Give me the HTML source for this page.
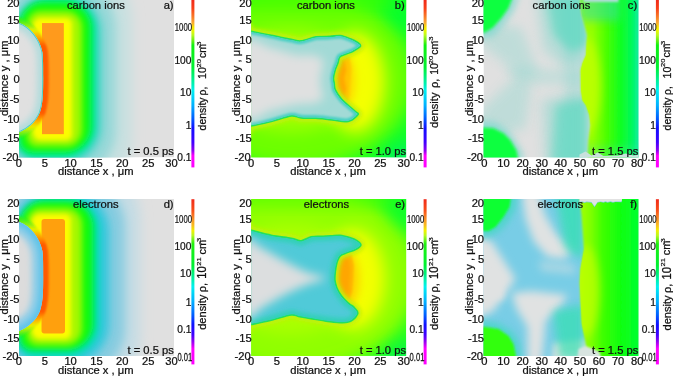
<!DOCTYPE html>
<html><head><meta charset="utf-8"><style>
html,body{margin:0;padding:0;background:#fff;width:673px;height:376px;overflow:hidden}
svg.main{display:block;will-change:transform}
text{font-family:"Liberation Sans", sans-serif;fill:#111;stroke:#111;stroke-width:0.25px}
</style></head><body>
<svg class="main" width="673" height="376" viewBox="0 0 673 376">
<defs>
<linearGradient id="cbar" x1="0" y1="0" x2="0" y2="1">
<stop offset="0" stop-color="#f02a1a"/>
<stop offset="0.05" stop-color="#f84018"/>
<stop offset="0.10" stop-color="#f87a28"/>
<stop offset="0.135" stop-color="#f8a830"/>
<stop offset="0.165" stop-color="#f8e800"/>
<stop offset="0.185" stop-color="#e8f800"/>
<stop offset="0.21" stop-color="#b8f820"/>
<stop offset="0.25" stop-color="#50f010"/>
<stop offset="0.27" stop-color="#10f010"/>
<stop offset="0.40" stop-color="#00f030"/>
<stop offset="0.50" stop-color="#00f0b0"/>
<stop offset="0.54" stop-color="#00f0f0"/>
<stop offset="0.63" stop-color="#00b0ff"/>
<stop offset="0.705" stop-color="#0060ff"/>
<stop offset="0.765" stop-color="#1010ff"/>
<stop offset="0.85" stop-color="#4000ff"/>
<stop offset="0.90" stop-color="#9000f0"/>
<stop offset="0.93" stop-color="#ff00ff"/>
<stop offset="1" stop-color="#ff00ff"/>
</linearGradient>
<linearGradient id="cbar2" x1="0" y1="0" x2="0" y2="1">
<stop offset="0" stop-color="#f02a1a"/>
<stop offset="0.07" stop-color="#f85018"/>
<stop offset="0.12" stop-color="#f89028"/>
<stop offset="0.16" stop-color="#f8c020"/>
<stop offset="0.19" stop-color="#f0f000"/>
<stop offset="0.22" stop-color="#b8f820"/>
<stop offset="0.27" stop-color="#20f010"/>
<stop offset="0.40" stop-color="#00f030"/>
<stop offset="0.49" stop-color="#00f0b0"/>
<stop offset="0.53" stop-color="#00f0f0"/>
<stop offset="0.62" stop-color="#00b0ff"/>
<stop offset="0.70" stop-color="#0060ff"/>
<stop offset="0.76" stop-color="#1010ff"/>
<stop offset="0.82" stop-color="#4000ff"/>
<stop offset="0.86" stop-color="#9000f0"/>
<stop offset="0.905" stop-color="#ff00ff"/>
<stop offset="1" stop-color="#ff00ff"/>
</linearGradient>

<linearGradient id="gradF" gradientUnits="userSpaceOnUse" x1="95" y1="0" x2="155" y2="0">
<stop offset="0" stop-color="#a8ff00"/>
<stop offset="0.2" stop-color="#80ff00"/>
<stop offset="0.4" stop-color="#40ff00"/>
<stop offset="0.7" stop-color="#10ff10"/>
<stop offset="1" stop-color="#00ff30"/>
</linearGradient>
<linearGradient id="gradC" gradientUnits="userSpaceOnUse" x1="95" y1="0" x2="155" y2="0">
<stop offset="0" stop-color="#b0ff00"/>
<stop offset="0.25" stop-color="#90ff00"/>
<stop offset="0.45" stop-color="#50ff00"/>
<stop offset="0.7" stop-color="#10ff20"/>
<stop offset="0.9" stop-color="#00f860"/>
<stop offset="1" stop-color="#10eca0"/>
</linearGradient>
<filter id="b1" x="-50%" y="-50%" width="200%" height="200%"><feGaussianBlur stdDeviation="1"/></filter>
<filter id="b15" x="-50%" y="-50%" width="200%" height="200%"><feGaussianBlur stdDeviation="1.5"/></filter>
<filter id="b2" x="-50%" y="-50%" width="200%" height="200%"><feGaussianBlur stdDeviation="2"/></filter>
<filter id="b3" x="-50%" y="-50%" width="200%" height="200%"><feGaussianBlur stdDeviation="3"/></filter>
<filter id="b4" x="-50%" y="-50%" width="200%" height="200%"><feGaussianBlur stdDeviation="4"/></filter>
<filter id="b5" x="-50%" y="-50%" width="200%" height="200%"><feGaussianBlur stdDeviation="5"/></filter>
<filter id="b6" x="-50%" y="-50%" width="200%" height="200%"><feGaussianBlur stdDeviation="6"/></filter>
<filter id="b8" x="-50%" y="-50%" width="200%" height="200%"><feGaussianBlur stdDeviation="8"/></filter>
<filter id="b05" x="-50%" y="-50%" width="200%" height="200%"><feGaussianBlur stdDeviation="0.6"/></filter>
<linearGradient id="holeband" gradientUnits="userSpaceOnUse" x1="0" y1="20" x2="0" y2="136">
<stop offset="0" stop-color="#30f020"/>
<stop offset="0.05" stop-color="#90f010"/>
<stop offset="0.09" stop-color="#e8f000"/>
<stop offset="0.14" stop-color="#ffb000"/>
<stop offset="0.22" stop-color="#ff5a00"/>
<stop offset="0.80" stop-color="#ff5a00"/>
<stop offset="0.87" stop-color="#ffb000"/>
<stop offset="0.92" stop-color="#e8f000"/>
<stop offset="0.96" stop-color="#90f010"/>
<stop offset="1" stop-color="#30f020"/>
</linearGradient>

</defs>
<svg x="19.0" y="0.0" width="155.0" height="157.4" viewBox="0 0 155 157" preserveAspectRatio="none" overflow="hidden"><rect x="0" y="0" width="155" height="157" fill="#e0e0e0"/><path d="M40,-40 L53,-40 A60,60 0 0 1 113,20 L113,137 A60,60 0 0 1 53,197 L20,197 A50,50 0 0 1 -30,147 L-30,30 A70,70 0 0 1 40,-40 Z" fill="#c8e0e0" filter="url(#b6)" /><path d="M38,-22 L47,-22 A50,50 0 0 1 97,28 L97,129 A50,50 0 0 1 47,179 L22,179 A40,40 0 0 1 -18,139 L-18,34 A56,56 0 0 1 38,-22 Z" fill="#98d8d8" filter="url(#b5)" /><path d="M36,-8 L43,-8 A40,40 0 0 1 83,32 L83,125 A40,40 0 0 1 43,165 L22,165 A30,30 0 0 1 -8,135 L-8,36 A44,44 0 0 1 36,-8 Z" fill="#48d4c8" filter="url(#b4)" /><path d="M32,-2 L45,-2 A32,32 0 0 1 77,30 L77,126 A32,32 0 0 1 45,158 L18,158 A20,20 0 0 1 -2,138 L-2,32 A34,34 0 0 1 32,-2 Z" fill="#00e8a0" filter="url(#b3)" /><path d="M25,2 L46,2 A26,26 0 0 1 72,28 L72,126 A26,26 0 0 1 46,152 L13,152 A12,12 0 0 1 1,140 L1,26 A24,24 0 0 1 25,2 Z" fill="#10fa10" filter="url(#b3)" /><path d="M22,11 L47,11 A16,16 0 0 1 63,27 L63,130 A16,16 0 0 1 47,146 L18,146 A10,10 0 0 1 8,136 L8,25 A14,14 0 0 1 22,11 Z" fill="#a8f800" filter="url(#b3)" /><path d="M22,18 L47,18 A6,6 0 0 1 53,24 L53,134 A6,6 0 0 1 47,140 L22,140 A8,8 0 0 1 14,132 L14,26 A8,8 0 0 1 22,18 Z" fill="#fcfc00" filter="url(#b2)" /><rect x="23" y="23" width="21.8" height="110.8" fill="#ff9a1c" filter="url(#b05)"/><path d="M-20,20 L0,22.8 C6,25 11,29 15,34 C19,39 22,45 23.4,52 C24.2,58 24.2,66 24.2,78 C24.2,98 23.5,104 21,112 C17,122 8,129 0,132 L-20,135 Z" fill="none" stroke="url(#holeband)" stroke-width="11" filter="url(#b1)"/><clipPath id="clipA"><path d="M-20,20 L0,22.8 C6,25 11,29 15,34 C19,39 22,45 23.4,52 C24.2,58 24.2,66 24.2,78 C24.2,98 23.5,104 21,112 C17,122 8,129 0,132 L-20,135 Z"/></clipPath><g clip-path="url(#clipA)"><path d="M-20,20 L0,22.8 C6,25 11,29 15,34 C19,39 22,45 23.4,52 C24.2,58 24.2,66 24.2,78 C24.2,98 23.5,104 21,112 C17,122 8,129 0,132 L-20,135 Z" fill="#e0e0e0"/><path d="M-20,20 L0,22.8 C6,25 11,29 15,34 C19,39 22,45 23.4,52 C24.2,58 24.2,66 24.2,78 C24.2,98 23.5,104 21,112 C17,122 8,129 0,132 L-20,135 Z" fill="none" stroke="#b0dcdc" stroke-width="12" filter="url(#b3)"/><path d="M-20,20 L0,22.8 C6,25 11,29 15,34 C19,39 22,45 23.4,52 C24.2,58 24.2,66 24.2,78 C24.2,98 23.5,104 21,112 C17,122 8,129 0,132 L-20,135 Z" fill="none" stroke="#50d0c8" stroke-width="2" filter="url(#b05)"/></g></svg><text transform="translate(19.60,7.30) scale(1,0.9)" text-anchor="end" font-size="11.2" >20</text><text transform="translate(19.60,23.60) scale(1,0.9)" text-anchor="end" font-size="11.2" >15</text><text transform="translate(19.60,43.60) scale(1,0.9)" text-anchor="end" font-size="11.2" >10</text><text transform="translate(19.60,63.40) scale(1,0.9)" text-anchor="end" font-size="11.2" >5</text><text transform="translate(19.60,83.10) scale(1,0.9)" text-anchor="end" font-size="11.2" >0</text><text transform="translate(19.60,103.10) scale(1,0.9)" text-anchor="end" font-size="11.2" >-5</text><text transform="translate(19.60,123.10) scale(1,0.9)" text-anchor="end" font-size="11.2" >-10</text><text transform="translate(19.60,142.10) scale(1,0.9)" text-anchor="end" font-size="11.2" >-15</text><text transform="translate(18.60,160.60) scale(1,0.9)" text-anchor="end" font-size="11.2" >-20</text><text transform="translate(18.90,166.60) scale(1,0.9)" text-anchor="middle" font-size="11.2" >0</text><text transform="translate(44.75,166.60) scale(1,0.9)" text-anchor="middle" font-size="11.2" >5</text><text transform="translate(70.60,166.60) scale(1,0.9)" text-anchor="middle" font-size="11.2" >10</text><text transform="translate(96.45,166.60) scale(1,0.9)" text-anchor="middle" font-size="11.2" >15</text><text transform="translate(122.30,166.60) scale(1,0.9)" text-anchor="middle" font-size="11.2" >20</text><text transform="translate(148.15,166.60) scale(1,0.9)" text-anchor="middle" font-size="11.2" >25</text><text transform="translate(171.50,166.60) scale(1,0.9)" text-anchor="middle" font-size="11.2" >30</text><text transform="translate(95.80,175.20) scale(1,0.9)" text-anchor="middle" font-size="11.2" >distance x , μm</text><text transform="translate(8.00,116.00) rotate(-90) scale(1,0.9)" text-anchor="start" font-size="11.2" >distance y , μm</text><text transform="translate(95.80,9.40) scale(1,0.9)" text-anchor="middle" font-size="11.2" >carbon ions</text><text transform="translate(173.60,9.40) scale(1,0.9)" text-anchor="end" font-size="11.2" >a)</text><text transform="translate(173.80,155.00) scale(1,0.9)" text-anchor="end" font-size="11.2" >t = 0.5 ps</text><rect x="191.4" y="0" width="3" height="167.4" fill="url(#cbar)"/><text transform="translate(192.00,31.10) scale(0.69,0.9)" text-anchor="end" font-size="11.2">1000</text><text transform="translate(191.40,63.70) scale(0.91,0.9)" text-anchor="end" font-size="11.2">100</text><text transform="translate(191.40,96.20) scale(0.91,0.9)" text-anchor="end" font-size="11.2">10</text><text transform="translate(191.40,128.90) scale(0.91,0.9)" text-anchor="end" font-size="11.2">1</text><text transform="translate(191.40,160.60) scale(0.91,0.9)" text-anchor="end" font-size="11.2">0.1</text><text transform="translate(206.00,130.40) rotate(-90) scale(1,1.02)" font-size="10.4">density</text><text transform="translate(206.00,95.40) rotate(-90) scale(1,1.02)" font-size="10.4">ρ,</text><text transform="translate(206.00,79.00) rotate(-90) scale(1,1.05)" font-size="10.6">10</text><text transform="translate(200.60,67.50) rotate(-90) scale(1,0.8)" font-size="7.6">20</text><text transform="translate(205.80,58.00) rotate(-90) scale(1,1.02)" font-size="10.6">cm</text><text transform="translate(200.60,48.20) rotate(-90) scale(1,0.8)" font-size="7.6">-3</text><svg x="251.2" y="0.0" width="155.0" height="157.4" viewBox="0 0 155 157" preserveAspectRatio="none" overflow="hidden"><rect x="0" y="0" width="155" height="157" fill="#10ff28"/><ellipse cx="45" cy="78" rx="118" ry="90" fill="#6cff00" filter="url(#b8)"/><ellipse cx="40" cy="80" rx="75" ry="52" fill="#9cff00" filter="url(#b8)"/><rect x="-10" y="-10" width="175" height="20" fill="#40ff00" opacity="0.7" filter="url(#b6)"/><ellipse cx="160" cy="165" rx="30" ry="22" fill="#00f070" opacity="0.7" filter="url(#b8)"/><ellipse cx="160" cy="0" rx="25" ry="30" fill="#00ff30" opacity="0.7" filter="url(#b8)"/><ellipse cx="104" cy="82" rx="30" ry="50" fill="#f4ff00" filter="url(#b8)"/><ellipse cx="94" cy="80" rx="10" ry="26" fill="#ffd800" filter="url(#b4)"/><path d="M86,55 L98,56 L100,68 L99,82 L98,95 L96,103 L90,102 L82,90 L80,75 L83,62 Z" fill="#ffc400" filter="url(#b15)"/><path d="M87,60 L93,59 L95,70 L93,78 L95,88 L93,98 L88,95 L85,84 L84,72 Z" fill="#ffa800" filter="url(#b15)"/><clipPath id="clipB"><path d="M-6.0,31.0 C-5.0,15.3 -4.3,31.2 0.0,32.0 C4.3,32.8 13.3,34.7 20.0,36.0 C26.7,37.3 35.0,39.1 40.0,40.0 C45.0,40.9 45.8,41.9 50.0,41.5 C54.2,41.1 60.2,38.2 65.0,37.5 C69.8,36.8 75.0,37.2 79.0,37.0 C83.0,36.8 85.7,35.8 89.0,36.2 C92.3,36.6 96.2,38.3 99.0,39.4 C101.8,40.5 104.4,41.9 106.0,43.0 C107.6,44.1 109.2,44.8 108.5,46.0 C107.8,47.2 104.0,49.2 101.5,50.5 C99.0,51.8 95.8,52.7 93.5,53.7 C91.2,54.7 89.3,54.9 88.0,56.5 C86.7,58.1 86.6,61.1 85.8,63.3 C85.0,65.5 84.0,67.3 83.3,69.7 C82.6,72.1 81.8,75.4 81.6,77.6 C81.4,79.8 82.0,80.9 82.3,83.0 C82.6,85.1 82.2,87.2 83.5,90.0 C84.8,92.8 87.5,96.7 90.0,99.5 C92.5,102.3 95.8,104.8 98.3,107.0 C100.8,109.2 103.5,111.2 104.7,112.5 C106.0,113.8 107.1,113.2 105.8,114.5 C104.5,115.8 101.0,119.8 96.8,120.5 C92.6,121.2 86.1,119.4 80.8,118.9 C75.5,118.4 69.9,117.6 64.8,117.3 C59.7,117.0 54.1,117.4 50.0,117.0 C45.9,116.6 45.0,114.4 40.0,115.0 C35.0,115.6 26.7,118.9 20.0,120.6 C13.3,122.3 4.3,124.1 0.0,125.0 C-4.3,125.9 -5.0,141.7 -6.0,126.0 C-7.0,110.3 -7.0,46.7 -6.0,31.0 Z"/></clipPath><path d="M-6.0,31.0 C-5.0,15.3 -4.3,31.2 0.0,32.0 C4.3,32.8 13.3,34.7 20.0,36.0 C26.7,37.3 35.0,39.1 40.0,40.0 C45.0,40.9 45.8,41.9 50.0,41.5 C54.2,41.1 60.2,38.2 65.0,37.5 C69.8,36.8 75.0,37.2 79.0,37.0 C83.0,36.8 85.7,35.8 89.0,36.2 C92.3,36.6 96.2,38.3 99.0,39.4 C101.8,40.5 104.4,41.9 106.0,43.0 C107.6,44.1 109.2,44.8 108.5,46.0 C107.8,47.2 104.0,49.2 101.5,50.5 C99.0,51.8 95.8,52.7 93.5,53.7 C91.2,54.7 89.3,54.9 88.0,56.5 C86.7,58.1 86.6,61.1 85.8,63.3 C85.0,65.5 84.0,67.3 83.3,69.7 C82.6,72.1 81.8,75.4 81.6,77.6 C81.4,79.8 82.0,80.9 82.3,83.0 C82.6,85.1 82.2,87.2 83.5,90.0 C84.8,92.8 87.5,96.7 90.0,99.5 C92.5,102.3 95.8,104.8 98.3,107.0 C100.8,109.2 103.5,111.2 104.7,112.5 C106.0,113.8 107.1,113.2 105.8,114.5 C104.5,115.8 101.0,119.8 96.8,120.5 C92.6,121.2 86.1,119.4 80.8,118.9 C75.5,118.4 69.9,117.6 64.8,117.3 C59.7,117.0 54.1,117.4 50.0,117.0 C45.9,116.6 45.0,114.4 40.0,115.0 C35.0,115.6 26.7,118.9 20.0,120.6 C13.3,122.3 4.3,124.1 0.0,125.0 C-4.3,125.9 -5.0,141.7 -6.0,126.0 C-7.0,110.3 -7.0,46.7 -6.0,31.0 Z" fill="none" stroke="#c0f010" stroke-width="9" filter="url(#b2)"/><path d="M-6.0,31.0 C-5.0,15.3 -4.3,31.2 0.0,32.0 C4.3,32.8 13.3,34.7 20.0,36.0 C26.7,37.3 35.0,39.1 40.0,40.0 C45.0,40.9 45.8,41.9 50.0,41.5 C54.2,41.1 60.2,38.2 65.0,37.5 C69.8,36.8 75.0,37.2 79.0,37.0 C83.0,36.8 85.7,35.8 89.0,36.2 C92.3,36.6 96.2,38.3 99.0,39.4 C101.8,40.5 104.4,41.9 106.0,43.0 C107.6,44.1 109.2,44.8 108.5,46.0 C107.8,47.2 104.0,49.2 101.5,50.5 C99.0,51.8 95.8,52.7 93.5,53.7 C91.2,54.7 89.3,54.9 88.0,56.5 C86.7,58.1 86.6,61.1 85.8,63.3 C85.0,65.5 84.0,67.3 83.3,69.7 C82.6,72.1 81.8,75.4 81.6,77.6 C81.4,79.8 82.0,80.9 82.3,83.0 C82.6,85.1 82.2,87.2 83.5,90.0 C84.8,92.8 87.5,96.7 90.0,99.5 C92.5,102.3 95.8,104.8 98.3,107.0 C100.8,109.2 103.5,111.2 104.7,112.5 C106.0,113.8 107.1,113.2 105.8,114.5 C104.5,115.8 101.0,119.8 96.8,120.5 C92.6,121.2 86.1,119.4 80.8,118.9 C75.5,118.4 69.9,117.6 64.8,117.3 C59.7,117.0 54.1,117.4 50.0,117.0 C45.9,116.6 45.0,114.4 40.0,115.0 C35.0,115.6 26.7,118.9 20.0,120.6 C13.3,122.3 4.3,124.1 0.0,125.0 C-4.3,125.9 -5.0,141.7 -6.0,126.0 C-7.0,110.3 -7.0,46.7 -6.0,31.0 Z" fill="none" stroke="#20e060" stroke-width="3" filter="url(#b05)"/><g clip-path="url(#clipB)"><path d="M-6.0,31.0 C-5.0,15.3 -4.3,31.2 0.0,32.0 C4.3,32.8 13.3,34.7 20.0,36.0 C26.7,37.3 35.0,39.1 40.0,40.0 C45.0,40.9 45.8,41.9 50.0,41.5 C54.2,41.1 60.2,38.2 65.0,37.5 C69.8,36.8 75.0,37.2 79.0,37.0 C83.0,36.8 85.7,35.8 89.0,36.2 C92.3,36.6 96.2,38.3 99.0,39.4 C101.8,40.5 104.4,41.9 106.0,43.0 C107.6,44.1 109.2,44.8 108.5,46.0 C107.8,47.2 104.0,49.2 101.5,50.5 C99.0,51.8 95.8,52.7 93.5,53.7 C91.2,54.7 89.3,54.9 88.0,56.5 C86.7,58.1 86.6,61.1 85.8,63.3 C85.0,65.5 84.0,67.3 83.3,69.7 C82.6,72.1 81.8,75.4 81.6,77.6 C81.4,79.8 82.0,80.9 82.3,83.0 C82.6,85.1 82.2,87.2 83.5,90.0 C84.8,92.8 87.5,96.7 90.0,99.5 C92.5,102.3 95.8,104.8 98.3,107.0 C100.8,109.2 103.5,111.2 104.7,112.5 C106.0,113.8 107.1,113.2 105.8,114.5 C104.5,115.8 101.0,119.8 96.8,120.5 C92.6,121.2 86.1,119.4 80.8,118.9 C75.5,118.4 69.9,117.6 64.8,117.3 C59.7,117.0 54.1,117.4 50.0,117.0 C45.9,116.6 45.0,114.4 40.0,115.0 C35.0,115.6 26.7,118.9 20.0,120.6 C13.3,122.3 4.3,124.1 0.0,125.0 C-4.3,125.9 -5.0,141.7 -6.0,126.0 C-7.0,110.3 -7.0,46.7 -6.0,31.0 Z" fill="#a2dad6"/><path d="M-6.0,31.0 C-5.0,15.3 -4.3,31.2 0.0,32.0 C4.3,32.8 13.3,34.7 20.0,36.0 C26.7,37.3 35.0,39.1 40.0,40.0 C45.0,40.9 45.8,41.9 50.0,41.5 C54.2,41.1 60.2,38.2 65.0,37.5 C69.8,36.8 75.0,37.2 79.0,37.0 C83.0,36.8 85.7,35.8 89.0,36.2 C92.3,36.6 96.2,38.3 99.0,39.4 C101.8,40.5 104.4,41.9 106.0,43.0 C107.6,44.1 109.2,44.8 108.5,46.0 C107.8,47.2 104.0,49.2 101.5,50.5 C99.0,51.8 95.8,52.7 93.5,53.7 C91.2,54.7 89.3,54.9 88.0,56.5 C86.7,58.1 86.6,61.1 85.8,63.3 C85.0,65.5 84.0,67.3 83.3,69.7 C82.6,72.1 81.8,75.4 81.6,77.6 C81.4,79.8 82.0,80.9 82.3,83.0 C82.6,85.1 82.2,87.2 83.5,90.0 C84.8,92.8 87.5,96.7 90.0,99.5 C92.5,102.3 95.8,104.8 98.3,107.0 C100.8,109.2 103.5,111.2 104.7,112.5 C106.0,113.8 107.1,113.2 105.8,114.5 C104.5,115.8 101.0,119.8 96.8,120.5 C92.6,121.2 86.1,119.4 80.8,118.9 C75.5,118.4 69.9,117.6 64.8,117.3 C59.7,117.0 54.1,117.4 50.0,117.0 C45.9,116.6 45.0,114.4 40.0,115.0 C35.0,115.6 26.7,118.9 20.0,120.6 C13.3,122.3 4.3,124.1 0.0,125.0 C-4.3,125.9 -5.0,141.7 -6.0,126.0 C-7.0,110.3 -7.0,46.7 -6.0,31.0 Z" fill="none" stroke="#48d0c4" stroke-width="5" filter="url(#b1)"/><path d="M-6.0,44.0 C-1.7,32.7 11.5,46.2 20.0,48.0 C28.5,49.8 38.3,53.8 45.0,55.0 C51.7,56.2 55.8,54.5 60.0,55.0 C64.2,55.5 68.0,56.5 70.0,58.0 C72.0,59.5 72.0,61.7 72.0,64.0 C72.0,66.3 70.5,69.3 70.0,72.0 C69.5,74.7 69.0,77.0 69.0,80.0 C69.0,83.0 69.5,87.0 70.0,90.0 C70.5,93.0 73.3,95.8 72.0,98.0 C70.7,100.2 66.5,102.0 62.0,103.0 C57.5,104.0 52.0,102.8 45.0,104.0 C38.0,105.2 28.5,108.0 20.0,110.0 C11.5,112.0 -1.7,127.0 -6.0,116.0 C-10.3,105.0 -10.3,55.3 -6.0,44.0 Z" fill="#dfe0e0" filter="url(#b5)"/></g></svg><text transform="translate(251.80,7.30) scale(1,0.9)" text-anchor="end" font-size="11.2" >20</text><text transform="translate(251.80,23.60) scale(1,0.9)" text-anchor="end" font-size="11.2" >15</text><text transform="translate(251.80,43.60) scale(1,0.9)" text-anchor="end" font-size="11.2" >10</text><text transform="translate(251.80,63.40) scale(1,0.9)" text-anchor="end" font-size="11.2" >5</text><text transform="translate(251.80,83.10) scale(1,0.9)" text-anchor="end" font-size="11.2" >0</text><text transform="translate(251.80,103.10) scale(1,0.9)" text-anchor="end" font-size="11.2" >-5</text><text transform="translate(251.80,123.10) scale(1,0.9)" text-anchor="end" font-size="11.2" >-10</text><text transform="translate(251.80,142.10) scale(1,0.9)" text-anchor="end" font-size="11.2" >-15</text><text transform="translate(250.80,160.60) scale(1,0.9)" text-anchor="end" font-size="11.2" >-20</text><text transform="translate(251.10,166.60) scale(1,0.9)" text-anchor="middle" font-size="11.2" >0</text><text transform="translate(276.95,166.60) scale(1,0.9)" text-anchor="middle" font-size="11.2" >5</text><text transform="translate(302.80,166.60) scale(1,0.9)" text-anchor="middle" font-size="11.2" >10</text><text transform="translate(328.65,166.60) scale(1,0.9)" text-anchor="middle" font-size="11.2" >15</text><text transform="translate(354.50,166.60) scale(1,0.9)" text-anchor="middle" font-size="11.2" >20</text><text transform="translate(380.35,166.60) scale(1,0.9)" text-anchor="middle" font-size="11.2" >25</text><text transform="translate(403.70,166.60) scale(1,0.9)" text-anchor="middle" font-size="11.2" >30</text><text transform="translate(328.00,175.20) scale(1,0.9)" text-anchor="middle" font-size="11.2" >distance x , μm</text><text transform="translate(240.20,116.00) rotate(-90) scale(1,0.9)" text-anchor="start" font-size="11.2" >distance y , μm</text><text transform="translate(325.90,9.40) scale(1,0.9)" text-anchor="middle" font-size="11.2" >carbon ions</text><text transform="translate(404.80,9.40) scale(1,0.9)" text-anchor="end" font-size="11.2" >b)</text><text transform="translate(406.00,155.00) scale(1,0.9)" text-anchor="end" font-size="11.2" >t = 1.0 ps</text><rect x="423.6" y="0" width="3" height="167.4" fill="url(#cbar)"/><text transform="translate(424.20,31.10) scale(0.69,0.9)" text-anchor="end" font-size="11.2">1000</text><text transform="translate(423.60,63.70) scale(0.91,0.9)" text-anchor="end" font-size="11.2">100</text><text transform="translate(423.60,96.20) scale(0.91,0.9)" text-anchor="end" font-size="11.2">10</text><text transform="translate(423.60,128.90) scale(0.91,0.9)" text-anchor="end" font-size="11.2">1</text><text transform="translate(423.60,160.60) scale(0.91,0.9)" text-anchor="end" font-size="11.2">0.1</text><text transform="translate(438.20,127.90) rotate(-90) scale(1,1.02)" font-size="11.2">density</text><text transform="translate(438.20,88.00) rotate(-90) scale(1,1.02)" font-size="11.2">ρ,</text><text transform="translate(438.20,74.80) rotate(-90) scale(1,1.05)" font-size="10.6">10</text><text transform="translate(432.80,64.20) rotate(-90) scale(1,0.8)" font-size="7.6">20</text><text transform="translate(438.00,54.70) rotate(-90) scale(1,1.02)" font-size="10.6">cm</text><text transform="translate(432.80,43.40) rotate(-90) scale(1,0.8)" font-size="7.6">-3</text><svg x="483.5" y="0.0" width="155.0" height="157.4" viewBox="0 0 155 157" preserveAspectRatio="none" overflow="hidden"><rect x="0" y="0" width="155" height="157" fill="#e0e0e0"/><path d="M76,-5 L105,-5 L105,165 L76,165 L82,80 Z" fill="#6cd4c8" opacity="0.25" filter="url(#b5)"/><path d="M62,-5 L105,-5 L105,45 L88,52 L70,35 Z" fill="#3cdcb8" opacity="0.6" filter="url(#b5)"/><path d="M52,-5 L100,-5 L100,62 L80,66 L60,50 Z" fill="#6cd4c8" opacity="0.35" filter="url(#b6)"/><path d="M72,105 L105,98 L105,165 L68,165 Z" fill="#3cdcb8" opacity="0.55" filter="url(#b5)"/><path d="M58,100 L100,92 L100,165 L62,165 Z" fill="#6cd4c8" opacity="0.35" filter="url(#b6)"/><path d="M20,66 L100,70 L100,86 L35,84 Z" fill="#6cd4c8" opacity="0.22" filter="url(#b5)"/><path d="M-5,20 L38,28 L55,72 L40,78 L-5,42 Z" fill="#6cd4c8" opacity="0.28" filter="url(#b6)"/><path d="M-5,112 L30,78 L48,84 L42,128 L-5,140 Z" fill="#6cd4c8" opacity="0.28" filter="url(#b6)"/><path d="M-5,-5 L36,-5 L30,12 L20,25 L10,36 L0,38 L-5,38 Z" fill="#70d8cc" opacity="0.6" filter="url(#b3)"/><path d="M-5,-5 L30,-5 L25,8 L18,18 L9,28 L0,33 L-5,33 Z" fill="#10ff40" filter="url(#b15)"/><path d="M-5,120 L12,122 L24,130 L32,140 L39,152 L40,160 L-5,160 Z" fill="#70d8cc" opacity="0.6" filter="url(#b3)"/><path d="M-5,127 L10,128 L20,133 L27,140 L33,150 L35,160 L-5,160 Z" fill="#10ff40" filter="url(#b15)"/><path d="M97,-2 L97,5 L98.5,15 L101,25 L103.5,35 L102.5,55 L99,63 L97.2,70 L97.5,90 L99,100 L102.5,105 L106,115 L107,125 L105,140 L104,160 L160,160 L160,-2 Z" fill="url(#gradC)" filter="url(#b1)"/><clipPath id="clipC"><path d="M97,-2 L97,5 L98.5,15 L101,25 L103.5,35 L102.5,55 L99,63 L97.2,70 L97.5,90 L99,100 L102.5,105 L106,115 L107,125 L105,140 L104,160 L160,160 L160,-2 Z"/></clipPath><g clip-path="url(#clipC)"><ellipse cx="102" cy="86" rx="15" ry="48" fill="#c0ff00" opacity="0.85" filter="url(#b4)"/><rect x="96" y="-5" width="40" height="26" fill="#30e0a0" opacity="0.6" filter="url(#b4)"/><rect x="95" y="145" width="70" height="20" fill="#40e8a0" opacity="0.3" filter="url(#b4)"/></g><rect x="100" y="-3" width="35" height="5" fill="#b0dcd8" filter="url(#b1)"/><path d="M96,160 L96,154 L102,151 L108,155 L114,152 L120,155.5 L135,155 L142,153 L150,155 L158,154 L158,160 Z" fill="#c8e0dc" filter="url(#b05)"/></svg><text transform="translate(484.10,7.30) scale(1,0.9)" text-anchor="end" font-size="11.2" >20</text><text transform="translate(484.10,23.60) scale(1,0.9)" text-anchor="end" font-size="11.2" >15</text><text transform="translate(484.10,43.60) scale(1,0.9)" text-anchor="end" font-size="11.2" >10</text><text transform="translate(484.10,63.40) scale(1,0.9)" text-anchor="end" font-size="11.2" >5</text><text transform="translate(484.10,83.10) scale(1,0.9)" text-anchor="end" font-size="11.2" >0</text><text transform="translate(484.10,103.10) scale(1,0.9)" text-anchor="end" font-size="11.2" >-5</text><text transform="translate(484.10,123.10) scale(1,0.9)" text-anchor="end" font-size="11.2" >-10</text><text transform="translate(484.10,142.10) scale(1,0.9)" text-anchor="end" font-size="11.2" >-15</text><text transform="translate(483.10,160.60) scale(1,0.9)" text-anchor="end" font-size="11.2" >-20</text><text transform="translate(484.40,166.60) scale(1,0.9)" text-anchor="middle" font-size="11.2" >0</text><text transform="translate(503.50,166.60) scale(1,0.9)" text-anchor="middle" font-size="11.2" >10</text><text transform="translate(522.60,166.60) scale(1,0.9)" text-anchor="middle" font-size="11.2" >20</text><text transform="translate(541.70,166.60) scale(1,0.9)" text-anchor="middle" font-size="11.2" >30</text><text transform="translate(560.80,166.60) scale(1,0.9)" text-anchor="middle" font-size="11.2" >40</text><text transform="translate(579.90,166.60) scale(1,0.9)" text-anchor="middle" font-size="11.2" >50</text><text transform="translate(599.00,166.60) scale(1,0.9)" text-anchor="middle" font-size="11.2" >60</text><text transform="translate(618.10,166.60) scale(1,0.9)" text-anchor="middle" font-size="11.2" >70</text><text transform="translate(637.20,166.60) scale(1,0.9)" text-anchor="middle" font-size="11.2" >80</text><text transform="translate(560.30,175.20) scale(1,0.9)" text-anchor="middle" font-size="11.2" >distance x , μm</text><text transform="translate(472.50,116.00) rotate(-90) scale(1,0.9)" text-anchor="start" font-size="11.2" >distance y , μm</text><text transform="translate(561.50,9.40) scale(1,0.9)" text-anchor="middle" font-size="11.2" >carbon ions</text><text transform="translate(637.20,9.40) scale(1,0.9)" text-anchor="end" font-size="11.2" >c)</text><text transform="translate(638.30,155.00) scale(1,0.9)" text-anchor="end" font-size="11.2" >t = 1.5 ps</text><rect x="655.9" y="0" width="3" height="167.4" fill="url(#cbar)"/><text transform="translate(656.50,31.10) scale(0.69,0.9)" text-anchor="end" font-size="11.2">1000</text><text transform="translate(655.90,63.70) scale(0.91,0.9)" text-anchor="end" font-size="11.2">100</text><text transform="translate(655.90,96.20) scale(0.91,0.9)" text-anchor="end" font-size="11.2">10</text><text transform="translate(655.90,128.90) scale(0.91,0.9)" text-anchor="end" font-size="11.2">1</text><text transform="translate(655.90,160.60) scale(0.91,0.9)" text-anchor="end" font-size="11.2">0.1</text><text transform="translate(670.50,130.40) rotate(-90) scale(1,1.02)" font-size="10.4">density</text><text transform="translate(670.50,95.00) rotate(-90) scale(1,1.02)" font-size="10.4">ρ,</text><text transform="translate(670.50,78.50) rotate(-90) scale(1,1.05)" font-size="10.6">10</text><text transform="translate(665.10,67.00) rotate(-90) scale(1,0.8)" font-size="7.6">20</text><text transform="translate(670.30,57.50) rotate(-90) scale(1,1.02)" font-size="10.6">cm</text><text transform="translate(665.10,47.50) rotate(-90) scale(1,0.8)" font-size="7.6">-3</text><svg x="19.0" y="199.0" width="155.0" height="156.9" viewBox="0 0 155 157" preserveAspectRatio="none" overflow="hidden"><rect x="0" y="0" width="155" height="157" fill="#e0e0e0"/><path d="M40,-40 L61,-40 A60,60 0 0 1 121,20 L121,137 A60,60 0 0 1 61,197 L20,197 A50,50 0 0 1 -30,147 L-30,30 A70,70 0 0 1 40,-40 Z" fill="#c4dce4" filter="url(#b6)" /><path d="M38,-22 L56,-22 A50,50 0 0 1 106,28 L106,129 A50,50 0 0 1 56,179 L22,179 A40,40 0 0 1 -18,139 L-18,34 A56,56 0 0 1 38,-22 Z" fill="#88cce0" filter="url(#b5)" /><path d="M36,-8 L50,-8 A40,40 0 0 1 90,32 L90,125 A40,40 0 0 1 50,165 L22,165 A30,30 0 0 1 -8,135 L-8,36 A44,44 0 0 1 36,-8 Z" fill="#30c8dc" filter="url(#b4)" /><path d="M32,-2 L48,-2 A32,32 0 0 1 80,30 L80,126 A32,32 0 0 1 48,158 L18,158 A20,20 0 0 1 -2,138 L-2,32 A34,34 0 0 1 32,-2 Z" fill="#00e0b0" filter="url(#b3)" /><path d="M25,2 L48,2 A26,26 0 0 1 74,28 L74,125 A26,26 0 0 1 48,151 L13,151 A12,12 0 0 1 1,139 L1,26 A24,24 0 0 1 25,2 Z" fill="#10fa10" filter="url(#b3)" /><path d="M22,9 L47,9 A16,16 0 0 1 63,25 L63,130 A16,16 0 0 1 47,146 L18,146 A10,10 0 0 1 8,136 L8,23 A14,14 0 0 1 22,9 Z" fill="#a8f800" filter="url(#b3)" /><path d="M21,15 L46,15 A6,6 0 0 1 52,21 L52,134 A6,6 0 0 1 46,140 L21,140 A8,8 0 0 1 13,132 L13,23 A8,8 0 0 1 21,15 Z" fill="#fcfc00" filter="url(#b2)" /><rect x="22.5" y="20" width="23.5" height="114.5" rx="3" fill="#ffa010" filter="url(#b05)"/><path d="M-20,20 L0,22.8 C6,25 11,29 15,34 C19,39 22,45 23.4,52 C24.2,58 24.2,66 24.2,78 C24.2,98 23.5,104 21,112 C17,122 8,129 0,132 L-20,135 Z" fill="none" stroke="url(#holeband)" stroke-width="11" filter="url(#b1)"/><clipPath id="clipD"><path d="M-20,20 L0,22.8 C6,25 11,29 15,34 C19,39 22,45 23.4,52 C24.2,58 24.2,66 24.2,78 C24.2,98 23.5,104 21,112 C17,122 8,129 0,132 L-20,135 Z"/></clipPath><g clip-path="url(#clipD)"><path d="M-20,20 L0,22.8 C6,25 11,29 15,34 C19,39 22,45 23.4,52 C24.2,58 24.2,66 24.2,78 C24.2,98 23.5,104 21,112 C17,122 8,129 0,132 L-20,135 Z" fill="#dcdcdc"/><path d="M-20,20 L0,22.8 C6,25 11,29 15,34 C19,39 22,45 23.4,52 C24.2,58 24.2,66 24.2,78 C24.2,98 23.5,104 21,112 C17,122 8,129 0,132 L-20,135 Z" fill="none" stroke="#88cce8" stroke-width="22" filter="url(#b3)"/><path d="M-20,20 L0,22.8 C6,25 11,29 15,34 C19,39 22,45 23.4,52 C24.2,58 24.2,66 24.2,78 C24.2,98 23.5,104 21,112 C17,122 8,129 0,132 L-20,135 Z" fill="none" stroke="#60c4e8" stroke-width="8" filter="url(#b2)"/></g></svg><text transform="translate(19.60,206.70) scale(1,0.9)" text-anchor="end" font-size="11.2" >20</text><text transform="translate(19.60,223.00) scale(1,0.9)" text-anchor="end" font-size="11.2" >15</text><text transform="translate(19.60,243.00) scale(1,0.9)" text-anchor="end" font-size="11.2" >10</text><text transform="translate(19.60,262.80) scale(1,0.9)" text-anchor="end" font-size="11.2" >5</text><text transform="translate(19.60,282.50) scale(1,0.9)" text-anchor="end" font-size="11.2" >0</text><text transform="translate(19.60,302.50) scale(1,0.9)" text-anchor="end" font-size="11.2" >-5</text><text transform="translate(19.60,322.50) scale(1,0.9)" text-anchor="end" font-size="11.2" >-10</text><text transform="translate(19.60,341.50) scale(1,0.9)" text-anchor="end" font-size="11.2" >-15</text><text transform="translate(18.60,360.00) scale(1,0.9)" text-anchor="end" font-size="11.2" >-20</text><text transform="translate(18.90,365.10) scale(1,0.9)" text-anchor="middle" font-size="11.2" >0</text><text transform="translate(44.75,365.10) scale(1,0.9)" text-anchor="middle" font-size="11.2" >5</text><text transform="translate(70.60,365.10) scale(1,0.9)" text-anchor="middle" font-size="11.2" >10</text><text transform="translate(96.45,365.10) scale(1,0.9)" text-anchor="middle" font-size="11.2" >15</text><text transform="translate(122.30,365.10) scale(1,0.9)" text-anchor="middle" font-size="11.2" >20</text><text transform="translate(148.15,365.10) scale(1,0.9)" text-anchor="middle" font-size="11.2" >25</text><text transform="translate(171.50,365.10) scale(1,0.9)" text-anchor="middle" font-size="11.2" >30</text><text transform="translate(95.80,373.70) scale(1,0.9)" text-anchor="middle" font-size="11.2" >distance x , μm</text><text transform="translate(8.00,314.50) rotate(-90) scale(1,0.9)" text-anchor="start" font-size="11.2" >distance y , μm</text><text transform="translate(95.80,207.90) scale(1,0.9)" text-anchor="middle" font-size="11.2" >electrons</text><text transform="translate(173.60,207.90) scale(1,0.9)" text-anchor="end" font-size="11.2" >d)</text><text transform="translate(173.80,353.50) scale(1,0.9)" text-anchor="end" font-size="11.2" >t = 0.5 ps</text><rect x="191.4" y="199.2" width="3" height="165.2" fill="url(#cbar2)"/><text transform="translate(192.00,222.60) scale(0.69,0.9)" text-anchor="end" font-size="11.2">1000</text><text transform="translate(191.40,249.60) scale(0.91,0.9)" text-anchor="end" font-size="11.2">100</text><text transform="translate(191.40,277.10) scale(0.91,0.9)" text-anchor="end" font-size="11.2">10</text><text transform="translate(191.40,305.60) scale(0.91,0.9)" text-anchor="end" font-size="11.2">1</text><text transform="translate(191.40,333.10) scale(0.91,0.9)" text-anchor="end" font-size="11.2">0.1</text><text transform="translate(192.20,360.50) scale(0.68,1.0)" text-anchor="end" font-size="11.2">0.01</text><text transform="translate(206.00,329.80) rotate(-90) scale(1,1.02)" font-size="11.1">density</text><text transform="translate(206.00,292.30) rotate(-90) scale(1,1.02)" font-size="11.1">ρ,</text><text transform="translate(206.00,278.80) rotate(-90) scale(1,1.05)" font-size="11.3">10</text><text transform="translate(200.60,265.70) rotate(-90) scale(1,0.8)" font-size="7.6">21</text><text transform="translate(205.80,254.50) rotate(-90) scale(1,1.02)" font-size="11">cm</text><text transform="translate(200.60,244.60) rotate(-90) scale(1,0.8)" font-size="7.6">-3</text><svg x="251.2" y="199.0" width="155.0" height="156.9" viewBox="0 0 155 157" preserveAspectRatio="none" overflow="hidden"><rect x="0" y="0" width="155" height="157" fill="#20ff20"/><ellipse cx="45" cy="78" rx="122" ry="95" fill="#90ff00" filter="url(#b8)"/><ellipse cx="40" cy="80" rx="75" ry="55" fill="#acff00" filter="url(#b8)"/><rect x="-10" y="-10" width="175" height="18" fill="#50ff00" opacity="0.6" filter="url(#b6)"/><ellipse cx="160" cy="165" rx="30" ry="22" fill="#00f060" opacity="0.6" filter="url(#b8)"/><ellipse cx="160" cy="0" rx="25" ry="30" fill="#00ff30" opacity="0.6" filter="url(#b8)"/><ellipse cx="102" cy="80" rx="32" ry="50" fill="#f4ff00" filter="url(#b8)"/><ellipse cx="96" cy="80" rx="12" ry="28" fill="#ffd000" filter="url(#b4)"/><path d="M86,55 L100,55 L102.5,66 L102,80 L101,92 L98,101 L90,102 L82,90 L80,75 L83,62 Z" fill="#ffb400" filter="url(#b1)"/><path d="M87,58 L97,58 L99,70 L98,84 L97,95 L92,99 L86,90 L84,72 Z" fill="#ffa600" filter="url(#b15)"/><clipPath id="clipE"><path d="M-6.0,31.0 C-5.0,15.3 -4.3,31.0 0.0,32.0 C4.3,33.0 13.3,35.7 20.0,37.0 C26.7,38.3 35.0,39.1 40.0,40.0 C45.0,40.9 46.7,42.8 50.0,42.5 C53.3,42.2 56.7,39.2 60.0,38.5 C63.3,37.8 66.7,38.2 70.0,38.0 C73.3,37.8 76.8,37.7 80.0,37.5 C83.2,37.3 85.8,36.7 89.0,37.0 C92.2,37.3 96.3,38.7 99.0,39.5 C101.7,40.3 103.3,40.9 105.0,42.0 C106.7,43.1 109.2,44.7 109.0,46.0 C108.8,47.3 106.2,48.8 104.0,50.0 C101.8,51.2 98.5,52.0 96.0,53.0 C93.5,54.0 90.7,54.7 89.0,56.0 C87.3,57.3 86.8,59.3 86.0,61.0 C85.2,62.7 84.9,64.2 84.5,66.0 C84.1,67.8 83.8,69.5 83.5,72.0 C83.2,74.5 82.8,78.2 83.0,81.0 C83.2,83.8 84.0,86.5 85.0,89.0 C86.0,91.5 87.5,94.0 88.8,96.0 C90.1,98.0 91.4,99.3 93.0,101.0 C94.6,102.7 96.7,104.7 98.3,106.0 C99.9,107.3 101.3,107.5 102.5,109.0 C103.7,110.5 106.8,112.7 105.7,115.0 C104.6,117.3 101.1,121.6 96.0,122.7 C90.9,123.8 82.7,122.4 75.0,121.5 C67.3,120.6 55.8,118.4 50.0,117.4 C44.2,116.4 45.0,114.8 40.0,115.3 C35.0,115.8 26.7,119.0 20.0,120.6 C13.3,122.2 4.3,124.0 0.0,124.9 C-4.3,125.8 -5.0,141.7 -6.0,126.0 C-7.0,110.3 -7.0,46.7 -6.0,31.0 Z"/></clipPath><path d="M-6.0,31.0 C-5.0,15.3 -4.3,31.0 0.0,32.0 C4.3,33.0 13.3,35.7 20.0,37.0 C26.7,38.3 35.0,39.1 40.0,40.0 C45.0,40.9 46.7,42.8 50.0,42.5 C53.3,42.2 56.7,39.2 60.0,38.5 C63.3,37.8 66.7,38.2 70.0,38.0 C73.3,37.8 76.8,37.7 80.0,37.5 C83.2,37.3 85.8,36.7 89.0,37.0 C92.2,37.3 96.3,38.7 99.0,39.5 C101.7,40.3 103.3,40.9 105.0,42.0 C106.7,43.1 109.2,44.7 109.0,46.0 C108.8,47.3 106.2,48.8 104.0,50.0 C101.8,51.2 98.5,52.0 96.0,53.0 C93.5,54.0 90.7,54.7 89.0,56.0 C87.3,57.3 86.8,59.3 86.0,61.0 C85.2,62.7 84.9,64.2 84.5,66.0 C84.1,67.8 83.8,69.5 83.5,72.0 C83.2,74.5 82.8,78.2 83.0,81.0 C83.2,83.8 84.0,86.5 85.0,89.0 C86.0,91.5 87.5,94.0 88.8,96.0 C90.1,98.0 91.4,99.3 93.0,101.0 C94.6,102.7 96.7,104.7 98.3,106.0 C99.9,107.3 101.3,107.5 102.5,109.0 C103.7,110.5 106.8,112.7 105.7,115.0 C104.6,117.3 101.1,121.6 96.0,122.7 C90.9,123.8 82.7,122.4 75.0,121.5 C67.3,120.6 55.8,118.4 50.0,117.4 C44.2,116.4 45.0,114.8 40.0,115.3 C35.0,115.8 26.7,119.0 20.0,120.6 C13.3,122.2 4.3,124.0 0.0,124.9 C-4.3,125.8 -5.0,141.7 -6.0,126.0 C-7.0,110.3 -7.0,46.7 -6.0,31.0 Z" fill="none" stroke="#c0f010" stroke-width="9" filter="url(#b2)"/><path d="M-6.0,31.0 C-5.0,15.3 -4.3,31.0 0.0,32.0 C4.3,33.0 13.3,35.7 20.0,37.0 C26.7,38.3 35.0,39.1 40.0,40.0 C45.0,40.9 46.7,42.8 50.0,42.5 C53.3,42.2 56.7,39.2 60.0,38.5 C63.3,37.8 66.7,38.2 70.0,38.0 C73.3,37.8 76.8,37.7 80.0,37.5 C83.2,37.3 85.8,36.7 89.0,37.0 C92.2,37.3 96.3,38.7 99.0,39.5 C101.7,40.3 103.3,40.9 105.0,42.0 C106.7,43.1 109.2,44.7 109.0,46.0 C108.8,47.3 106.2,48.8 104.0,50.0 C101.8,51.2 98.5,52.0 96.0,53.0 C93.5,54.0 90.7,54.7 89.0,56.0 C87.3,57.3 86.8,59.3 86.0,61.0 C85.2,62.7 84.9,64.2 84.5,66.0 C84.1,67.8 83.8,69.5 83.5,72.0 C83.2,74.5 82.8,78.2 83.0,81.0 C83.2,83.8 84.0,86.5 85.0,89.0 C86.0,91.5 87.5,94.0 88.8,96.0 C90.1,98.0 91.4,99.3 93.0,101.0 C94.6,102.7 96.7,104.7 98.3,106.0 C99.9,107.3 101.3,107.5 102.5,109.0 C103.7,110.5 106.8,112.7 105.7,115.0 C104.6,117.3 101.1,121.6 96.0,122.7 C90.9,123.8 82.7,122.4 75.0,121.5 C67.3,120.6 55.8,118.4 50.0,117.4 C44.2,116.4 45.0,114.8 40.0,115.3 C35.0,115.8 26.7,119.0 20.0,120.6 C13.3,122.2 4.3,124.0 0.0,124.9 C-4.3,125.8 -5.0,141.7 -6.0,126.0 C-7.0,110.3 -7.0,46.7 -6.0,31.0 Z" fill="none" stroke="#20e060" stroke-width="3" filter="url(#b05)"/><g clip-path="url(#clipE)"><path d="M-6.0,31.0 C-5.0,15.3 -4.3,31.0 0.0,32.0 C4.3,33.0 13.3,35.7 20.0,37.0 C26.7,38.3 35.0,39.1 40.0,40.0 C45.0,40.9 46.7,42.8 50.0,42.5 C53.3,42.2 56.7,39.2 60.0,38.5 C63.3,37.8 66.7,38.2 70.0,38.0 C73.3,37.8 76.8,37.7 80.0,37.5 C83.2,37.3 85.8,36.7 89.0,37.0 C92.2,37.3 96.3,38.7 99.0,39.5 C101.7,40.3 103.3,40.9 105.0,42.0 C106.7,43.1 109.2,44.7 109.0,46.0 C108.8,47.3 106.2,48.8 104.0,50.0 C101.8,51.2 98.5,52.0 96.0,53.0 C93.5,54.0 90.7,54.7 89.0,56.0 C87.3,57.3 86.8,59.3 86.0,61.0 C85.2,62.7 84.9,64.2 84.5,66.0 C84.1,67.8 83.8,69.5 83.5,72.0 C83.2,74.5 82.8,78.2 83.0,81.0 C83.2,83.8 84.0,86.5 85.0,89.0 C86.0,91.5 87.5,94.0 88.8,96.0 C90.1,98.0 91.4,99.3 93.0,101.0 C94.6,102.7 96.7,104.7 98.3,106.0 C99.9,107.3 101.3,107.5 102.5,109.0 C103.7,110.5 106.8,112.7 105.7,115.0 C104.6,117.3 101.1,121.6 96.0,122.7 C90.9,123.8 82.7,122.4 75.0,121.5 C67.3,120.6 55.8,118.4 50.0,117.4 C44.2,116.4 45.0,114.8 40.0,115.3 C35.0,115.8 26.7,119.0 20.0,120.6 C13.3,122.2 4.3,124.0 0.0,124.9 C-4.3,125.8 -5.0,141.7 -6.0,126.0 C-7.0,110.3 -7.0,46.7 -6.0,31.0 Z" fill="#50cad8"/><path d="M-6.0,31.0 C-5.0,15.3 -4.3,31.0 0.0,32.0 C4.3,33.0 13.3,35.7 20.0,37.0 C26.7,38.3 35.0,39.1 40.0,40.0 C45.0,40.9 46.7,42.8 50.0,42.5 C53.3,42.2 56.7,39.2 60.0,38.5 C63.3,37.8 66.7,38.2 70.0,38.0 C73.3,37.8 76.8,37.7 80.0,37.5 C83.2,37.3 85.8,36.7 89.0,37.0 C92.2,37.3 96.3,38.7 99.0,39.5 C101.7,40.3 103.3,40.9 105.0,42.0 C106.7,43.1 109.2,44.7 109.0,46.0 C108.8,47.3 106.2,48.8 104.0,50.0 C101.8,51.2 98.5,52.0 96.0,53.0 C93.5,54.0 90.7,54.7 89.0,56.0 C87.3,57.3 86.8,59.3 86.0,61.0 C85.2,62.7 84.9,64.2 84.5,66.0 C84.1,67.8 83.8,69.5 83.5,72.0 C83.2,74.5 82.8,78.2 83.0,81.0 C83.2,83.8 84.0,86.5 85.0,89.0 C86.0,91.5 87.5,94.0 88.8,96.0 C90.1,98.0 91.4,99.3 93.0,101.0 C94.6,102.7 96.7,104.7 98.3,106.0 C99.9,107.3 101.3,107.5 102.5,109.0 C103.7,110.5 106.8,112.7 105.7,115.0 C104.6,117.3 101.1,121.6 96.0,122.7 C90.9,123.8 82.7,122.4 75.0,121.5 C67.3,120.6 55.8,118.4 50.0,117.4 C44.2,116.4 45.0,114.8 40.0,115.3 C35.0,115.8 26.7,119.0 20.0,120.6 C13.3,122.2 4.3,124.0 0.0,124.9 C-4.3,125.8 -5.0,141.7 -6.0,126.0 C-7.0,110.3 -7.0,46.7 -6.0,31.0 Z" fill="none" stroke="#30d0b8" stroke-width="8" filter="url(#b2)"/><path d="M-6.0,44.0 C-3.3,32.8 3.2,45.8 10.0,49.0 C16.8,52.2 27.5,59.0 35.0,63.0 C42.5,67.0 48.5,70.3 55.0,73.0 C61.5,75.7 74.0,76.8 74.0,79.0 C74.0,81.2 61.5,83.3 55.0,86.0 C48.5,88.7 42.2,91.3 35.0,95.0 C27.8,98.7 18.8,104.5 12.0,108.0 C5.2,111.5 -3.0,126.7 -6.0,116.0 C-9.0,105.3 -8.7,55.2 -6.0,44.0 Z" fill="#dcdedf" filter="url(#b5)"/></g></svg><text transform="translate(251.80,206.70) scale(1,0.9)" text-anchor="end" font-size="11.2" >20</text><text transform="translate(251.80,223.00) scale(1,0.9)" text-anchor="end" font-size="11.2" >15</text><text transform="translate(251.80,243.00) scale(1,0.9)" text-anchor="end" font-size="11.2" >10</text><text transform="translate(251.80,262.80) scale(1,0.9)" text-anchor="end" font-size="11.2" >5</text><text transform="translate(251.80,282.50) scale(1,0.9)" text-anchor="end" font-size="11.2" >0</text><text transform="translate(251.80,302.50) scale(1,0.9)" text-anchor="end" font-size="11.2" >-5</text><text transform="translate(251.80,322.50) scale(1,0.9)" text-anchor="end" font-size="11.2" >-10</text><text transform="translate(251.80,341.50) scale(1,0.9)" text-anchor="end" font-size="11.2" >-15</text><text transform="translate(250.80,360.00) scale(1,0.9)" text-anchor="end" font-size="11.2" >-20</text><text transform="translate(251.10,365.10) scale(1,0.9)" text-anchor="middle" font-size="11.2" >0</text><text transform="translate(276.95,365.10) scale(1,0.9)" text-anchor="middle" font-size="11.2" >5</text><text transform="translate(302.80,365.10) scale(1,0.9)" text-anchor="middle" font-size="11.2" >10</text><text transform="translate(328.65,365.10) scale(1,0.9)" text-anchor="middle" font-size="11.2" >15</text><text transform="translate(354.50,365.10) scale(1,0.9)" text-anchor="middle" font-size="11.2" >20</text><text transform="translate(380.35,365.10) scale(1,0.9)" text-anchor="middle" font-size="11.2" >25</text><text transform="translate(403.70,365.10) scale(1,0.9)" text-anchor="middle" font-size="11.2" >30</text><text transform="translate(328.00,373.70) scale(1,0.9)" text-anchor="middle" font-size="11.2" >distance x , μm</text><text transform="translate(240.20,314.50) rotate(-90) scale(1,0.9)" text-anchor="start" font-size="11.2" >distance y , μm</text><text transform="translate(326.50,207.90) scale(1,0.9)" text-anchor="middle" font-size="11.2" >electrons</text><text transform="translate(405.10,207.90) scale(1,0.9)" text-anchor="end" font-size="11.2" >e)</text><text transform="translate(406.00,353.50) scale(1,0.9)" text-anchor="end" font-size="11.2" >t = 1.0 ps</text><rect x="423.6" y="199.2" width="3" height="165.2" fill="url(#cbar2)"/><text transform="translate(424.20,222.60) scale(0.69,0.9)" text-anchor="end" font-size="11.2">1000</text><text transform="translate(423.60,249.60) scale(0.91,0.9)" text-anchor="end" font-size="11.2">100</text><text transform="translate(423.60,277.10) scale(0.91,0.9)" text-anchor="end" font-size="11.2">10</text><text transform="translate(423.60,305.60) scale(0.91,0.9)" text-anchor="end" font-size="11.2">1</text><text transform="translate(423.60,333.10) scale(0.91,0.9)" text-anchor="end" font-size="11.2">0.1</text><text transform="translate(424.40,360.50) scale(0.68,1.0)" text-anchor="end" font-size="11.2">0.01</text><text transform="translate(438.20,330.00) rotate(-90) scale(1,1.02)" font-size="11.1">density</text><text transform="translate(438.20,292.50) rotate(-90) scale(1,1.02)" font-size="11.1">ρ,</text><text transform="translate(438.20,279.00) rotate(-90) scale(1,1.05)" font-size="11.3">10</text><text transform="translate(432.80,265.90) rotate(-90) scale(1,0.8)" font-size="7.6">21</text><text transform="translate(438.00,254.70) rotate(-90) scale(1,1.02)" font-size="11">cm</text><text transform="translate(432.80,244.00) rotate(-90) scale(1,0.8)" font-size="7.6">-3</text><svg x="483.5" y="199.0" width="155.0" height="156.9" viewBox="0 0 155 157" preserveAspectRatio="none" overflow="hidden"><rect x="0" y="0" width="155" height="157" fill="#e0e0e0"/><rect x="-5" y="-5" width="110" height="167" fill="#78cde6"/><path d="M38,-8 L55,-8 L61,15 L72,34 L88,50 L82,60 L64,58 L50,42 L42,20 Z" fill="#e0e2e2" filter="url(#b4)"/><path d="M-8,36 L8,42 L32,80 L10,112 L-8,120 Z" fill="#e0e2e2" filter="url(#b4)"/><path d="M-8,72 L-8,100 L20,100 L18,80 Z" fill="#e0e2e2" filter="url(#b3)"/><path d="M28,94 L48,92 L84,96 L78,106 L62,122 L58,165 L44,165 L44,128 L33,110 Z" fill="#e0e2e2" filter="url(#b4)"/><path d="M70,144 L105,140 L105,165 L68,165 Z" fill="#e0e2e2" filter="url(#b3)"/><path d="M55,62 L90,66 L92,75 L58,72 Z" fill="#e0e2e2" opacity="0.5" filter="url(#b4)"/><path d="M72,-5 L100,-5 L100,60 L82,50 Z" fill="#30e0b0" opacity="0.75" filter="url(#b4)"/><path d="M70,112 L100,106 L100,160 L76,160 Z" fill="#30e0b0" opacity="0.7" filter="url(#b4)"/><path d="M-5,-5 L34,-5 L32,10 L24,24 L14,34 L4,38 L-5,38 Z" fill="#40d8c0" opacity="0.7" filter="url(#b3)"/><path d="M-5,-5 L28,-5 L26,8 L20,18 L12,28 L5,32 L-5,32 Z" fill="#10ff30" filter="url(#b1)"/><path d="M-5,121 L14,124 L28,132 L35,142 L38,160 L-5,160 Z" fill="#40d8c0" opacity="0.7" filter="url(#b3)"/><path d="M-5,127 L15,130 L25,137 L30,145 L33,160 L-5,160 Z" fill="#30ff10" filter="url(#b1)"/><path d="M96,-2 L98,16 L100.5,50 L97,70 L96.2,84 L98.3,125 L102.5,146 L102,160 L160,160 L160,-2 Z" fill="url(#gradF)" filter="url(#b1)"/><clipPath id="clipF"><path d="M96,-2 L98,16 L100.5,50 L97,70 L96.2,84 L98.3,125 L102.5,146 L102,160 L160,160 L160,-2 Z"/></clipPath><g clip-path="url(#clipF)"><ellipse cx="101" cy="92" rx="15" ry="46" fill="#c0ff00" opacity="0.75" filter="url(#b4)"/></g><path d="M94,160 L95,150 L102,147 L110,150 L116,153 L118,160 Z" fill="#d8e4e0" filter="url(#b1)"/><path d="M96,-2 L139,-2 L138,3.2 L132,3.1 L129.5,3.7 L127,3 L124,3.7 L122,3 L120,3.7 L117,3.1 L114,3.7 L111,8.2 L108,3.7 L103,3.3 L101,3.9 L99,3.2 L96,3.5 Z" fill="#70d0e0" filter="url(#b05)"/><path d="M96,-2 L139,-2 L138,2.5 L132,2.4 L129.5,3 L127,2.3 L124,3 L122,2.3 L120,3 L117,2.4 L114,3 L111,7.3 L108,3 L103,2.6 L101,3.2 L99,2.5 L96,2.8 Z" fill="#e2e2e2" filter="url(#b05)"/></svg><text transform="translate(484.10,206.70) scale(1,0.9)" text-anchor="end" font-size="11.2" >20</text><text transform="translate(484.10,223.00) scale(1,0.9)" text-anchor="end" font-size="11.2" >15</text><text transform="translate(484.10,243.00) scale(1,0.9)" text-anchor="end" font-size="11.2" >10</text><text transform="translate(484.10,262.80) scale(1,0.9)" text-anchor="end" font-size="11.2" >5</text><text transform="translate(484.10,282.50) scale(1,0.9)" text-anchor="end" font-size="11.2" >0</text><text transform="translate(484.10,302.50) scale(1,0.9)" text-anchor="end" font-size="11.2" >-5</text><text transform="translate(484.10,322.50) scale(1,0.9)" text-anchor="end" font-size="11.2" >-10</text><text transform="translate(484.10,341.50) scale(1,0.9)" text-anchor="end" font-size="11.2" >-15</text><text transform="translate(483.10,360.00) scale(1,0.9)" text-anchor="end" font-size="11.2" >-20</text><text transform="translate(484.40,365.10) scale(1,0.9)" text-anchor="middle" font-size="11.2" >0</text><text transform="translate(503.50,365.10) scale(1,0.9)" text-anchor="middle" font-size="11.2" >10</text><text transform="translate(522.60,365.10) scale(1,0.9)" text-anchor="middle" font-size="11.2" >20</text><text transform="translate(541.70,365.10) scale(1,0.9)" text-anchor="middle" font-size="11.2" >30</text><text transform="translate(560.80,365.10) scale(1,0.9)" text-anchor="middle" font-size="11.2" >40</text><text transform="translate(579.90,365.10) scale(1,0.9)" text-anchor="middle" font-size="11.2" >50</text><text transform="translate(599.00,365.10) scale(1,0.9)" text-anchor="middle" font-size="11.2" >60</text><text transform="translate(618.10,365.10) scale(1,0.9)" text-anchor="middle" font-size="11.2" >70</text><text transform="translate(637.20,365.10) scale(1,0.9)" text-anchor="middle" font-size="11.2" >80</text><text transform="translate(560.30,373.70) scale(1,0.9)" text-anchor="middle" font-size="11.2" >distance x , μm</text><text transform="translate(472.50,314.50) rotate(-90) scale(1,0.9)" text-anchor="start" font-size="11.2" >distance y , μm</text><text transform="translate(560.30,207.90) scale(1,0.9)" text-anchor="middle" font-size="11.2" >electrons</text><text transform="translate(637.10,207.90) scale(1,0.9)" text-anchor="end" font-size="11.2" >f)</text><text transform="translate(638.30,353.50) scale(1,0.9)" text-anchor="end" font-size="11.2" >t = 1.5 ps</text><rect x="655.9" y="199.2" width="3" height="165.2" fill="url(#cbar2)"/><text transform="translate(656.50,222.60) scale(0.69,0.9)" text-anchor="end" font-size="11.2">1000</text><text transform="translate(655.90,249.60) scale(0.91,0.9)" text-anchor="end" font-size="11.2">100</text><text transform="translate(655.90,277.10) scale(0.91,0.9)" text-anchor="end" font-size="11.2">10</text><text transform="translate(655.90,305.60) scale(0.91,0.9)" text-anchor="end" font-size="11.2">1</text><text transform="translate(655.90,333.10) scale(0.91,0.9)" text-anchor="end" font-size="11.2">0.1</text><text transform="translate(656.70,360.50) scale(0.68,1.0)" text-anchor="end" font-size="11.2">0.01</text><text transform="translate(670.50,330.50) rotate(-90) scale(1,1.02)" font-size="11.1">density</text><text transform="translate(670.50,293.00) rotate(-90) scale(1,1.02)" font-size="11.1">ρ,</text><text transform="translate(670.50,279.50) rotate(-90) scale(1,1.05)" font-size="11.3">10</text><text transform="translate(665.10,266.40) rotate(-90) scale(1,0.8)" font-size="7.6">21</text><text transform="translate(670.30,255.20) rotate(-90) scale(1,1.02)" font-size="11">cm</text><text transform="translate(665.10,245.00) rotate(-90) scale(1,0.8)" font-size="7.6">-3</text>
</svg>
</body></html>
